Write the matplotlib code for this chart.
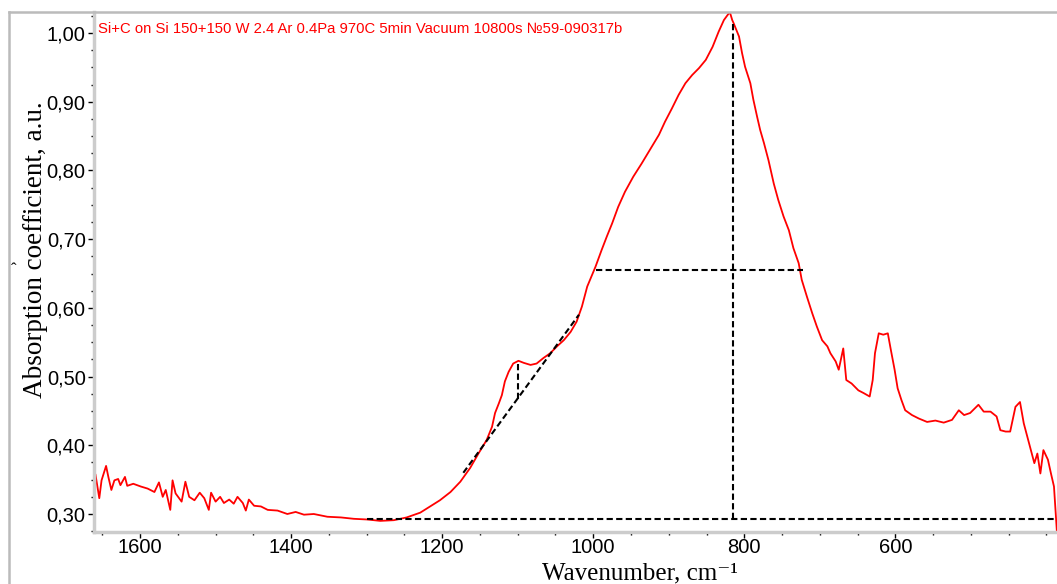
import matplotlib
matplotlib.use("Agg")
import matplotlib.pyplot as plt
from matplotlib.ticker import MultipleLocator, FixedLocator, FuncFormatter
from matplotlib.lines import Line2D

# IR absorption spectrum
wavenumber = [1659, 1654, 1651, 1645, 1642, 1638, 1634, 1629, 1626, 1620, 1617, 1609,
              1599, 1590, 1581, 1575, 1570, 1566, 1560, 1557, 1553, 1545, 1540, 1535,
              1528, 1521, 1515, 1509, 1506, 1500, 1494, 1489, 1482, 1476, 1471, 1464,
              1460, 1456, 1449, 1440, 1431, 1418, 1405, 1394, 1383, 1370, 1352, 1334,
              1317, 1299, 1282, 1264, 1247, 1229, 1216, 1203, 1189, 1176, 1163, 1152,
              1141, 1134, 1130, 1125, 1121, 1117, 1112, 1106, 1099, 1092, 1083, 1075,
              1066, 1057, 1048, 1039, 1030, 1022, 1015, 1008, 997, 989, 982, 975,
              967, 958, 947, 936, 925, 913, 905, 896, 887, 878, 869, 860,
              851, 842, 834, 827, 821, 819, 816, 814, 807, 803, 799, 792,
              788, 783, 779, 774, 768, 761, 755, 748, 741, 735, 728, 724,
              717, 710, 704, 697, 690, 686, 679, 675, 669, 665, 658, 649,
              642, 634, 630, 627, 622, 616, 610, 606, 601, 597, 592, 587,
              578, 569, 558, 547, 536, 525, 516, 509, 501, 490, 483, 474,
              466, 461, 454, 448, 441, 435, 430, 423, 416, 412, 408, 404,
              398, 394, 390, 386]
absorbance = [0.357, 0.323, 0.349, 0.370, 0.354, 0.335, 0.349, 0.351, 0.342, 0.354, 0.341, 0.344,
              0.340, 0.337, 0.332, 0.346, 0.325, 0.335, 0.306, 0.349, 0.330, 0.318, 0.347, 0.325,
              0.320, 0.331, 0.323, 0.306, 0.331, 0.318, 0.325, 0.316, 0.321, 0.315, 0.325, 0.316,
              0.305, 0.321, 0.312, 0.311, 0.306, 0.305, 0.300, 0.303, 0.299, 0.300, 0.296, 0.295,
              0.293, 0.292, 0.290, 0.291, 0.295, 0.302, 0.311, 0.320, 0.332, 0.347, 0.367, 0.388,
              0.408, 0.427, 0.447, 0.461, 0.473, 0.493, 0.507, 0.519, 0.523, 0.520, 0.517, 0.519,
              0.527, 0.534, 0.544, 0.553, 0.565, 0.580, 0.602, 0.631, 0.660, 0.684, 0.704, 0.723,
              0.747, 0.769, 0.791, 0.810, 0.830, 0.852, 0.871, 0.890, 0.910, 0.927, 0.939, 0.949,
              0.961, 0.980, 1.002, 1.019, 1.028, 1.030, 1.019, 1.014, 0.995, 0.971, 0.951, 0.927,
              0.903, 0.878, 0.859, 0.840, 0.815, 0.781, 0.757, 0.733, 0.713, 0.687, 0.665, 0.641,
              0.616, 0.592, 0.573, 0.553, 0.544, 0.534, 0.522, 0.510, 0.541, 0.495, 0.490, 0.480,
              0.476, 0.471, 0.495, 0.534, 0.563, 0.561, 0.563, 0.539, 0.510, 0.483, 0.466, 0.451,
              0.444, 0.439, 0.434, 0.436, 0.433, 0.437, 0.451, 0.444, 0.447, 0.459, 0.449, 0.449,
              0.442, 0.422, 0.420, 0.420, 0.456, 0.463, 0.432, 0.403, 0.374, 0.388, 0.359, 0.393,
              0.379, 0.359, 0.340, 0.272]

# construction lines drawn on the spectrum
baseline = 0.293
baseline_x = [1300, 386]
peak_x = 815
peak_top = 1.016
half_y = 0.655
half_x = [996, 722]
tangent_x = [1172, 1019]
tangent_y = [0.36, 0.59]
shoulder_x = 1100
shoulder_y = [0.467, 0.521]

x_major = [600, 800, 1000, 1200, 1400, 1600]
label_text = "Si+C on Si 150+150 W 2.4 Ar 0.4Pa 970C 5min Vacuum 10800s №59-090317b"

W, H = 1057, 584
fig = plt.figure(figsize=(W / 100, H / 100), dpi=100)
ax = fig.add_axes([94 / W, (H - 532) / H, (W - 94) / W, (532 - 12) / H])

ax.plot(wavenumber, absorbance, color="#ff0000", lw=1.3)

dash = dict(color="black", lw=1.5, linestyle=(0, (3, 1.6)))
ax.plot(baseline_x, [baseline, baseline], **dash)
ax.plot([peak_x, peak_x], [baseline, peak_top], **dash)
ax.plot(half_x, [half_y, half_y], **dash)
ax.plot(tangent_x, tangent_y, **dash)
ax.plot([shoulder_x, shoulder_x], shoulder_y, **dash)

ax.set_xlim(1661, 386)
ax.set_ylim(0.2738, 1.0307)

ax.xaxis.set_major_locator(FixedLocator(x_major))
ax.xaxis.set_minor_locator(MultipleLocator(50))
ax.yaxis.set_major_locator(MultipleLocator(0.1))
ax.yaxis.set_minor_locator(MultipleLocator(0.025))
ax.yaxis.set_major_formatter(FuncFormatter(lambda v, p: f"{v:.2f}".replace(".", ",")))

for s in ["top", "right"]:
    ax.spines[s].set_visible(False)
for s in ["left", "bottom"]:
    ax.spines[s].set_color("#cccccc")
    ax.spines[s].set_linewidth(2.5)

ax.tick_params(which="major", length=4, width=1, color="black", labelsize=14.5, pad=2)
ax.tick_params(which="minor", length=2, width=1, color="black")
ax.tick_params(axis="x", which="major", pad=0.5)
for lab in ax.get_xticklabels() + ax.get_yticklabels():
    lab.set_family("Liberation Sans")

ax.text(0.004, 0.98, label_text, transform=ax.transAxes, color="#ff0000",
        fontsize=10.7, va="top", ha="left", family=["Liberation Sans", "DejaVu Sans"])

fig.text(36 / W, 1 - 250 / H, "Absorption coefficient, a.u.", rotation=90,
         ha="center", va="center", fontsize=19.5, family="Liberation Serif")
fig.text(640 / W, 0.0, "Wavenumber, cm⁻¹", ha="center", va="bottom",
         fontsize=18, family=["Liberation Serif", "DejaVu Serif"])
fig.text(14 / W, 1 - 270 / H, "ˆ", ha="center", va="center", fontsize=12,
         family="Liberation Serif")

# grey frame around the picture
fig.add_artist(Line2D([9 / W, 1], [1 - 12 / H, 1 - 12 / H], transform=fig.transFigure,
                      color="#bbbbbb", lw=1.8))
fig.add_artist(Line2D([9 / W, 9 / W], [0, 1 - 12 / H], transform=fig.transFigure,
                      color="#bbbbbb", lw=1.8))

fig.savefig("out.png", dpi=100)
